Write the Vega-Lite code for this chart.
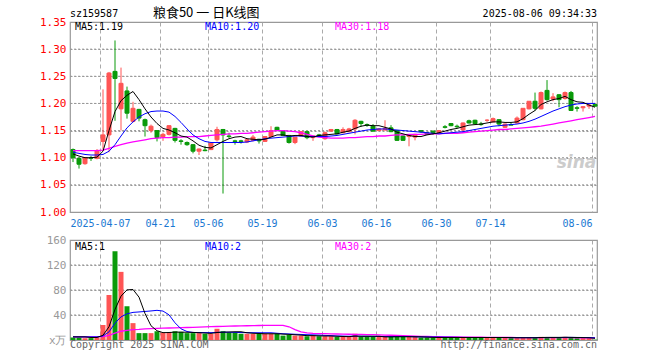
{
"$schema": "https://vega.github.io/schema/vega-lite/v6.json",
"autosize": "none",
"padding": {"left": 70, "top": 22, "right": 63, "bottom": 20},
"params": [{"name": "width", "value": 527}, {"name": "height", "value": 318}],
"background": "white",
"spacing": 28,
"bounds": "flush",
"config": {
  "view": {"stroke": "#999999", "strokeWidth": 1.2},
  "axis": {"domain": false, "ticks": false, "labelFont": "DejaVu Sans Mono", "labelFontSize": 10, "title": null, "gridColor": "#aaaaaa", "gridWidth": 1, "labelOverlap": false, "labelFlush": false, "labelBound": false},
  "text": {"font": "DejaVu Sans Mono", "fontSize": 10}
},
"datasets": {
"k": [
{"i":0,"o":1.115,"h":1.117,"l":1.092,"c":1.100,"v":4,"m5":1.107,"m10":1.110,"m30":1.113,"v5":5,"v10":5,"v30":5},
{"i":1,"o":1.099,"h":1.100,"l":1.080,"c":1.088,"v":4,"m5":1.103,"m10":1.108,"m30":1.113,"v5":5,"v10":5,"v30":5},
{"i":2,"o":1.089,"h":1.101,"l":1.087,"c":1.100,"v":3,"m5":1.100,"m10":1.106,"m30":1.113,"v5":5,"v10":5,"v30":5},
{"i":3,"o":1.100,"h":1.103,"l":1.094,"c":1.099,"v":3,"m5":1.100,"m10":1.105,"m30":1.113,"v5":4,"v10":5,"v30":5},
{"i":4,"o":1.099,"h":1.116,"l":1.097,"c":1.113,"v":4,"m5":1.101,"m10":1.105,"m30":1.113,"v5":4,"v10":5,"v30":5},
{"i":5,"o":1.130,"h":1.226,"l":1.115,"c":1.142,"v":24,"m5":1.112,"m10":1.106,"m30":1.114,"v5":7.6,"v10":6.5,"v30":5.5},
{"i":6,"o":1.142,"h":1.258,"l":1.110,"c":1.256,"v":72,"m5":1.150,"m10":1.112,"m30":1.117,"v5":21.2,"v10":13,"v30":7.5},
{"i":7,"o":1.259,"h":1.316,"l":1.168,"c":1.246,"v":142,"m5":1.185,"m10":1.124,"m30":1.121,"v5":49,"v10":27,"v30":11},
{"i":8,"o":1.190,"h":1.266,"l":1.150,"c":1.237,"v":109,"m5":1.205,"m10":1.140,"m30":1.124,"v5":70.2,"v10":37,"v30":14},
{"i":9,"o":1.223,"h":1.231,"l":1.172,"c":1.182,"v":54,"m5":1.215,"m10":1.155,"m30":1.127,"v5":80.2,"v10":41.9,"v30":15.5},
{"i":10,"o":1.167,"h":1.203,"l":1.165,"c":1.191,"v":27,"m5":1.222,"m10":1.166,"m30":1.129,"v5":80.8,"v10":44.2,"v30":16.5},
{"i":11,"o":1.189,"h":1.190,"l":1.167,"c":1.173,"v":11,"m5":1.207,"m10":1.175,"m30":1.131,"v5":68.6,"v10":44.9,"v30":17},
{"i":12,"o":1.170,"h":1.172,"l":1.139,"c":1.159,"v":11,"m5":1.190,"m10":1.181,"m30":1.133,"v5":42.4,"v10":45.7,"v30":17.8},
{"i":13,"o":1.150,"h":1.161,"l":1.146,"c":1.158,"v":11,"m5":1.175,"m10":1.185,"m30":1.135,"v5":22.8,"v10":46.5,"v30":18.3},
{"i":14,"o":1.150,"h":1.151,"l":1.130,"c":1.137,"v":14,"m5":1.163,"m10":1.186,"m30":1.136,"v5":14.8,"v10":47.5,"v30":18.7},
{"i":15,"o":1.139,"h":1.146,"l":1.131,"c":1.143,"v":12,"m5":1.154,"m10":1.186,"m30":1.137,"v5":11.8,"v10":46.3,"v30":19},
{"i":16,"o":1.143,"h":1.160,"l":1.141,"c":1.159,"v":12,"m5":1.151,"m10":1.184,"m30":1.137,"v5":12,"v10":40.3,"v30":19.2},
{"i":17,"o":1.154,"h":1.155,"l":1.128,"c":1.132,"v":14,"m5":1.146,"m10":1.176,"m30":1.138,"v5":12.6,"v10":27.5,"v30":19.5},
{"i":18,"o":1.131,"h":1.134,"l":1.124,"c":1.130,"v":13,"m5":1.140,"m10":1.165,"m30":1.138,"v5":12.6,"v10":17.9,"v30":19.8},
{"i":19,"o":1.128,"h":1.130,"l":1.122,"c":1.124,"v":11,"m5":1.138,"m10":1.153,"m30":1.139,"v5":12.4,"v10":13.6,"v30":20},
{"i":20,"o":1.124,"h":1.125,"l":1.108,"c":1.112,"v":11,"m5":1.131,"m10":1.142,"m30":1.139,"v5":12.2,"v10":12,"v30":20.2},
{"i":21,"o":1.112,"h":1.117,"l":1.105,"c":1.116,"v":11,"m5":1.123,"m10":1.135,"m30":1.139,"v5":11.6,"v10":12,"v30":20.5},
{"i":22,"o":1.114,"h":1.122,"l":1.112,"c":1.113,"v":10,"m5":1.119,"m10":1.130,"m30":1.140,"v5":11.2,"v10":11.9,"v30":21},
{"i":23,"o":1.115,"h":1.129,"l":1.114,"c":1.127,"v":10,"m5":1.118,"m10":1.128,"m30":1.141,"v5":10.6,"v10":11.8,"v30":21.3},
{"i":24,"o":1.133,"h":1.157,"l":1.130,"c":1.152,"v":18,"m5":1.124,"m10":1.128,"m30":1.142,"v5":12,"v10":12.2,"v30":21.6},
{"i":25,"o":1.152,"h":1.153,"l":1.034,"c":1.142,"v":14,"m5":1.130,"m10":1.128,"m30":1.143,"v5":12.6,"v10":12.4,"v30":21.9},
{"i":26,"o":1.140,"h":1.146,"l":1.136,"c":1.139,"v":12,"m5":1.135,"m10":1.128,"m30":1.144,"v5":12.8,"v10":12.4,"v30":22.2},
{"i":27,"o":1.131,"h":1.133,"l":1.124,"c":1.130,"v":12,"m5":1.138,"m10":1.128,"m30":1.144,"v5":13.2,"v10":12.2,"v30":22.4},
{"i":28,"o":1.131,"h":1.133,"l":1.126,"c":1.130,"v":10,"m5":1.139,"m10":1.128,"m30":1.145,"v5":13.2,"v10":11.9,"v30":22.6},
{"i":29,"o":1.129,"h":1.135,"l":1.127,"c":1.133,"v":10,"m5":1.135,"m10":1.129,"m30":1.145,"v5":11.6,"v10":11.8,"v30":22.8},
{"i":30,"o":1.132,"h":1.142,"l":1.130,"c":1.138,"v":10,"m5":1.134,"m10":1.131,"m30":1.146,"v5":10.8,"v10":11.7,"v30":23},
{"i":31,"o":1.134,"h":1.135,"l":1.126,"c":1.131,"v":10,"m5":1.133,"m10":1.133,"m30":1.147,"v5":10.4,"v10":11.6,"v30":23.2},
{"i":32,"o":1.130,"h":1.140,"l":1.129,"c":1.139,"v":10,"m5":1.134,"m10":1.135,"m30":1.148,"v5":10,"v10":11.6,"v30":23.3},
{"i":33,"o":1.139,"h":1.158,"l":1.138,"c":1.150,"v":10,"m5":1.138,"m10":1.136,"m30":1.149,"v5":10,"v10":11.6,"v30":23.4},
{"i":34,"o":1.156,"h":1.157,"l":1.149,"c":1.151,"v":10,"m5":1.142,"m10":1.137,"m30":1.150,"v5":10,"v10":10.8,"v30":23.4},
{"i":35,"o":1.150,"h":1.151,"l":1.140,"c":1.141,"v":7,"m5":1.142,"m10":1.138,"m30":1.150,"v5":9.4,"v10":10.1,"v30":23.3},
{"i":36,"o":1.141,"h":1.142,"l":1.126,"c":1.128,"v":8,"m5":1.140,"m10":1.139,"m30":1.149,"v5":9,"v10":9.7,"v30":21.2},
{"i":37,"o":1.128,"h":1.138,"l":1.125,"c":1.138,"v":7,"m5":1.141,"m10":1.140,"m30":1.148,"v5":8.4,"v10":9.2,"v30":16.6},
{"i":38,"o":1.140,"h":1.149,"l":1.139,"c":1.148,"v":7,"m5":1.141,"m10":1.140,"m30":1.146,"v5":7.8,"v10":8.9,"v30":13.1},
{"i":39,"o":1.148,"h":1.149,"l":1.134,"c":1.137,"v":6,"m5":1.139,"m10":1.139,"m30":1.143,"v5":7,"v10":8.5,"v30":11.4},
{"i":40,"o":1.137,"h":1.141,"l":1.131,"c":1.140,"v":7,"m5":1.138,"m10":1.139,"m30":1.140,"v5":7,"v10":8.2,"v30":10.5},
{"i":41,"o":1.142,"h":1.144,"l":1.139,"c":1.140,"v":6,"m5":1.141,"m10":1.139,"m30":1.138,"v5":6.6,"v10":7.8,"v30":10.3},
{"i":42,"o":1.135,"h":1.148,"l":1.133,"c":1.146,"v":6,"m5":1.142,"m10":1.139,"m30":1.137,"v5":6.4,"v10":7.4,"v30":10.1},
{"i":43,"o":1.149,"h":1.153,"l":1.148,"c":1.152,"v":6,"m5":1.143,"m10":1.140,"m30":1.136,"v5":6.4,"v10":7,"v30":9.9},
{"i":44,"o":1.152,"h":1.153,"l":1.143,"c":1.144,"v":5,"m5":1.144,"m10":1.141,"m30":1.136,"v5":6,"v10":6.5,"v30":9.6},
{"i":45,"o":1.146,"h":1.156,"l":1.145,"c":1.152,"v":5,"m5":1.147,"m10":1.143,"m30":1.136,"v5":5.6,"v10":6.3,"v30":9.4},
{"i":46,"o":1.148,"h":1.155,"l":1.147,"c":1.153,"v":5,"m5":1.149,"m10":1.145,"m30":1.137,"v5":5.4,"v10":6,"v30":9.2},
{"i":47,"o":1.153,"h":1.171,"l":1.143,"c":1.169,"v":10,"m5":1.154,"m10":1.147,"m30":1.137,"v5":6.2,"v10":6.3,"v30":9.1},
{"i":48,"o":1.167,"h":1.168,"l":1.157,"c":1.163,"v":5,"m5":1.158,"m10":1.149,"m30":1.138,"v5":6,"v10":6.1,"v30":8.9},
{"i":49,"o":1.161,"h":1.163,"l":1.157,"c":1.160,"v":5,"m5":1.160,"m10":1.151,"m30":1.139,"v5":6,"v10":6,"v30":8.7},
{"i":50,"o":1.158,"h":1.162,"l":1.148,"c":1.149,"v":5,"m5":1.159,"m10":1.152,"m30":1.139,"v5":6,"v10":5.8,"v30":8.5},
{"i":51,"o":1.150,"h":1.154,"l":1.149,"c":1.153,"v":5,"m5":1.159,"m10":1.153,"m30":1.140,"v5":6,"v10":5.7,"v30":8.2},
{"i":52,"o":1.151,"h":1.169,"l":1.150,"c":1.154,"v":5,"m5":1.156,"m10":1.153,"m30":1.140,"v5":5,"v10":5.6,"v30":7.9},
{"i":53,"o":1.155,"h":1.160,"l":1.147,"c":1.148,"v":5,"m5":1.153,"m10":1.152,"m30":1.141,"v5":5,"v10":5.5,"v30":7.6},
{"i":54,"o":1.150,"h":1.151,"l":1.131,"c":1.132,"v":6,"m5":1.147,"m10":1.151,"m30":1.142,"v5":5.2,"v10":5.6,"v30":7.3},
{"i":55,"o":1.140,"h":1.141,"l":1.131,"c":1.132,"v":5,"m5":1.144,"m10":1.150,"m30":1.142,"v5":5.2,"v10":5.6,"v30":6.9},
{"i":56,"o":1.139,"h":1.143,"l":1.121,"c":1.142,"v":5,"m5":1.141,"m10":1.149,"m30":1.143,"v5":5.2,"v10":5.6,"v30":6.5},
{"i":57,"o":1.138,"h":1.144,"l":1.132,"c":1.143,"v":5,"m5":1.139,"m10":1.148,"m30":1.143,"v5":5.2,"v10":5.1,"v30":6.2},
{"i":58,"o":1.150,"h":1.150,"l":1.146,"c":1.148,"v":4,"m5":1.139,"m10":1.147,"m30":1.143,"v5":5,"v10":5,"v30":5.9},
{"i":59,"o":1.146,"h":1.147,"l":1.142,"c":1.143,"v":4,"m5":1.142,"m10":1.146,"m30":1.144,"v5":4.6,"v10":4.9,"v30":5.6},
{"i":60,"o":1.149,"h":1.150,"l":1.142,"c":1.146,"v":4,"m5":1.144,"m10":1.145,"m30":1.144,"v5":4.2,"v10":4.8,"v30":5.4},
{"i":61,"o":1.146,"h":1.151,"l":1.145,"c":1.150,"v":4,"m5":1.146,"m10":1.144,"m30":1.144,"v5":4,"v10":4.7,"v30":5.2},
{"i":62,"o":1.157,"h":1.160,"l":1.154,"c":1.156,"v":4,"m5":1.149,"m10":1.145,"m30":1.145,"v5":4,"v10":4.6,"v30":5},
{"i":63,"o":1.163,"h":1.164,"l":1.158,"c":1.159,"v":4,"m5":1.152,"m10":1.146,"m30":1.145,"v5":4,"v10":4.5,"v30":4.9},
{"i":64,"o":1.158,"h":1.161,"l":1.155,"c":1.157,"v":4,"m5":1.154,"m10":1.147,"m30":1.145,"v5":4,"v10":4.3,"v30":4.8},
{"i":65,"o":1.151,"h":1.165,"l":1.150,"c":1.164,"v":4,"m5":1.157,"m10":1.148,"m30":1.146,"v5":4,"v10":4.2,"v30":4.7},
{"i":66,"o":1.168,"h":1.170,"l":1.163,"c":1.164,"v":4,"m5":1.160,"m10":1.150,"m30":1.147,"v5":4,"v10":4.1,"v30":4.6},
{"i":67,"o":1.169,"h":1.170,"l":1.162,"c":1.163,"v":4,"m5":1.161,"m10":1.152,"m30":1.148,"v5":4,"v10":4,"v30":4.5},
{"i":68,"o":1.162,"h":1.166,"l":1.159,"c":1.161,"v":4,"m5":1.162,"m10":1.154,"m30":1.149,"v5":4,"v10":4,"v30":4.4},
{"i":69,"o":1.169,"h":1.171,"l":1.166,"c":1.169,"v":4,"m5":1.164,"m10":1.156,"m30":1.150,"v5":4,"v10":4,"v30":4.3},
{"i":70,"o":1.166,"h":1.174,"l":1.165,"c":1.172,"v":4,"m5":1.166,"m10":1.158,"m30":1.151,"v5":4,"v10":4,"v30":4.2},
{"i":71,"o":1.170,"h":1.171,"l":1.158,"c":1.162,"v":4,"m5":1.166,"m10":1.159,"m30":1.152,"v5":4,"v10":4,"v30":4.1},
{"i":72,"o":1.156,"h":1.163,"l":1.155,"c":1.162,"v":4,"m5":1.165,"m10":1.160,"m30":1.152,"v5":4,"v10":4,"v30":4},
{"i":73,"o":1.161,"h":1.165,"l":1.160,"c":1.160,"v":3,"m5":1.165,"m10":1.161,"m30":1.153,"v5":3.8,"v10":3.9,"v30":4},
{"i":74,"o":1.164,"h":1.176,"l":1.163,"c":1.173,"v":3,"m5":1.166,"m10":1.162,"m30":1.154,"v5":3.6,"v10":3.8,"v30":3.9},
{"i":75,"o":1.170,"h":1.191,"l":1.169,"c":1.191,"v":4,"m5":1.172,"m10":1.164,"m30":1.155,"v5":3.6,"v10":3.8,"v30":3.9},
{"i":76,"o":1.190,"h":1.204,"l":1.189,"c":1.204,"v":4,"m5":1.180,"m10":1.167,"m30":1.156,"v5":3.6,"v10":3.8,"v30":3.8},
{"i":77,"o":1.204,"h":1.220,"l":1.187,"c":1.191,"v":4,"m5":1.187,"m10":1.171,"m30":1.157,"v5":3.6,"v10":3.8,"v30":3.8},
{"i":78,"o":1.190,"h":1.222,"l":1.189,"c":1.220,"v":5,"m5":1.198,"m10":1.176,"m30":1.158,"v5":4,"v10":3.9,"v30":3.8},
{"i":79,"o":1.224,"h":1.243,"l":1.205,"c":1.207,"v":4,"m5":1.203,"m10":1.181,"m30":1.160,"v5":4.2,"v10":3.9,"v30":3.8},
{"i":80,"o":1.208,"h":1.219,"l":1.204,"c":1.212,"v":4,"m5":1.207,"m10":1.186,"m30":1.162,"v5":4.2,"v10":3.9,"v30":3.7},
{"i":81,"o":1.216,"h":1.217,"l":1.193,"c":1.207,"v":4,"m5":1.209,"m10":1.190,"m30":1.164,"v5":4.2,"v10":3.9,"v30":3.7},
{"i":82,"o":1.209,"h":1.222,"l":1.207,"c":1.220,"v":5,"m5":1.213,"m10":1.194,"m30":1.166,"v5":4.4,"v10":4.1,"v30":3.7},
{"i":83,"o":1.220,"h":1.223,"l":1.186,"c":1.187,"v":4,"m5":1.207,"m10":1.197,"m30":1.168,"v5":4.2,"v10":4.2,"v30":3.7},
{"i":84,"o":1.192,"h":1.195,"l":1.185,"c":1.191,"v":3,"m5":1.203,"m10":1.199,"m30":1.170,"v5":4,"v10":4.1,"v30":3.6},
{"i":85,"o":1.192,"h":1.195,"l":1.185,"c":1.194,"v":3,"m5":1.202,"m10":1.200,"m30":1.172,"v5":3.8,"v10":4,"v30":3.6},
{"i":86,"o":1.195,"h":1.200,"l":1.190,"c":1.197,"v":3,"m5":1.197,"m10":1.200,"m30":1.174,"v5":3.6,"v10":3.9,"v30":3.5},
{"i":87,"o":1.198,"h":1.199,"l":1.194,"c":1.195,"v":0.5,"m5":1.193,"m10":1.200,"m30":1.176,"v5":2.7,"v10":3.6,"v30":3.4}
],
"pt": [{"p": 1.05, "a": -0.5, "b": 87.33}, {"p": 1.1, "a": -0.5, "b": 87.33}, {"p": 1.15, "a": -0.5, "b": 87.33}, {"p": 1.2, "a": -0.5, "b": 87.33}, {"p": 1.25, "a": -0.5, "b": 87.33}, {"p": 1.3, "a": -0.5, "b": 87.33}],
"vt": [{"p": 40, "a": -0.5, "b": 87.33}, {"p": 80, "a": -0.5, "b": 87.33}, {"p": 120, "a": -0.5, "b": 87.33}]
},
"vconcat": [
{
  "width": 527, "height": 190,
  "encoding": {
    "x": {"field": "i", "type": "quantitative", "scale": {"domain": [-0.5, 87.33], "nice": false, "zero": false, "padding": 0},
      "axis": {"values": [4.5, 14.5, 22.5, 31.5, 41.5, 50.5, 60.5, 69.5, 86.5],
        "labelExpr": "datum.value < 5 ? '2025-04-07' : datum.value < 15 ? '04-21' : datum.value < 23 ? '05-06' : datum.value < 32 ? '05-19' : datum.value < 42 ? '06-03' : datum.value < 51 ? '06-16' : datum.value < 61 ? '06-30' : datum.value < 70 ? '07-14' : '08-06'",
        "labelColor": "#1a78d2", "labelPadding": 6, "labelFontSize": 10, "grid": true,
        "labelAlign": {"condition": {"test": "datum.value > 80", "value": "right"}, "value": "center"},
        "gridDash": [4, 3], "gridColor": "#aaaaaa"}}
  },
  "layer": [
    {
      "data": {"name": "pt"},
      "mark": {"type": "rule", "color": "#999999", "strokeWidth": 1, "strokeDash": [2, 2], "opacity": 1},
      "encoding": {
        "x": {"field": "a", "type": "quantitative", "scale": {"domain": [-0.5, 87.33], "nice": false, "zero": false, "padding": 0}},
        "x2": {"field": "b"},
        "y": {"field": "p", "type": "quantitative", "scale": {"domain": [1.0, 1.35], "nice": false, "zero": false},
          "axis": {"values": [1.0, 1.05, 1.1, 1.15, 1.2, 1.25, 1.3, 1.35], "format": ".2f", "labelColor": "#ff0000", "labelPadding": 4, "labelFontSize": 11, "grid": true, "gridDash": [2, 2], "gridColor": "#999999", "labelOverlap": false, "labelFlush": false, "labelBound": false, "tickCount": 8}}
      }
    },
    {
      "data": {"name": "k"},
      "mark": {"type": "rule", "strokeWidth": 1},
      "encoding": {
        "y": {"field": "l", "type": "quantitative", "scale": {"domain": [1.0, 1.35], "nice": false, "zero": false}},
        "y2": {"field": "h"},
        "color": {"condition": {"test": "datum.c >= datum.o", "value": "#ff5555"}, "value": "#0a9a0a"}
      }
    },
    {
      "data": {"name": "k"},
      "mark": {"type": "bar", "orient": "vertical", "width": 4, "strokeWidth": 1},
      "encoding": {
        "y": {"field": "o", "type": "quantitative", "scale": {"domain": [1.0, 1.35], "nice": false, "zero": false}},
        "y2": {"field": "c"},
        "fill": {"condition": {"test": "datum.c >= datum.o", "value": "#ff5555"}, "value": "#0a9a0a"},
        "stroke": {"condition": {"test": "datum.c >= datum.o", "value": "#ff5555"}, "value": "#0a9a0a"}
      }
    },
    {
      "data": {"name": "k"},
      "mark": {"type": "line", "color": "#ff00ff", "strokeWidth": 1.3},
      "encoding": {"y": {"field": "m30", "type": "quantitative", "scale": {"domain": [1.0, 1.35], "nice": false, "zero": false}}}
    },
    {
      "data": {"name": "k"},
      "mark": {"type": "line", "color": "#0000ff", "strokeWidth": 1},
      "encoding": {"y": {"field": "m10", "type": "quantitative", "scale": {"domain": [1.0, 1.35], "nice": false, "zero": false}}}
    },
    {
      "data": {"name": "k"},
      "mark": {"type": "line", "color": "#000000", "strokeWidth": 1},
      "encoding": {"y": {"field": "m5", "type": "quantitative", "scale": {"domain": [1.0, 1.35], "nice": false, "zero": false}}}
    },
    {
      "data": {"values": [
        {"i": -0.5, "p": 1.3593, "t": "sz159587", "col": "#000000"},
        {"i": 0.33, "p": 1.3361, "t": "MA5:1.19", "col": "#000000"},
        {"i": 22.0, "p": 1.3361, "t": "MA10:1.20", "col": "#0000ff"},
        {"i": 43.67, "p": 1.3361, "t": "MA30:1.18", "col": "#ff00ff"}
      ]},
      "mark": {"type": "text", "baseline": "alphabetic", "align": "left", "font": "DejaVu Sans Mono", "fontSize": 10},
      "encoding": {
        "y": {"field": "p", "type": "quantitative", "scale": {"domain": [1.0, 1.35], "nice": false, "zero": false}},
        "text": {"field": "t"},
        "color": {"field": "col", "type": "nominal", "scale": null}
      }
    },
    {
      "data": {"values": [{"i": 87.33, "p": 1.3593, "t": "2025-08-06 09:34:33"}]},
      "mark": {"type": "text", "baseline": "alphabetic", "align": "right", "font": "DejaVu Sans Mono", "fontSize": 10, "color": "#000000"},
      "encoding": {
        "y": {"field": "p", "type": "quantitative", "scale": {"domain": [1.0, 1.35], "nice": false, "zero": false}},
        "text": {"field": "t"}
      }
    },
    {
      "data": {"values": [{"i": 22.2, "p": 1.3593, "t": "粮食50 一 日K线图"}]},
      "mark": {"type": "text", "baseline": "alphabetic", "align": "center", "font": "Noto Sans CJK SC", "fontSize": 13, "color": "#000000"},
      "encoding": {
        "y": {"field": "p", "type": "quantitative", "scale": {"domain": [1.0, 1.35], "nice": false, "zero": false}},
        "text": {"field": "t"}
      }
    },
    {
      "data": {"values": [{"i": 87.2, "p": 1.0815, "t": "sina"}]},
      "mark": {"type": "text", "baseline": "alphabetic", "align": "right", "font": "DejaVu Sans", "fontSize": 17, "fontWeight": "bold", "fontStyle": "italic", "color": "#cccccc"},
      "encoding": {
        "y": {"field": "p", "type": "quantitative", "scale": {"domain": [1.0, 1.35], "nice": false, "zero": false}},
        "text": {"field": "t"}
      }
    }
  ]
},
{
  "width": 527, "height": 100,
  "encoding": {
    "x": {"field": "i", "type": "quantitative", "scale": {"domain": [-0.5, 87.33], "nice": false, "zero": false, "padding": 0},
      "axis": {"values": [4.5, 14.5, 22.5, 31.5, 41.5, 50.5, 60.5, 69.5, 86.5], "labels": false, "grid": true, "gridDash": [4, 3], "gridColor": "#aaaaaa"}}
  },
  "layer": [
    {
      "data": {"name": "vt"},
      "mark": {"type": "rule", "color": "#999999", "strokeWidth": 1, "strokeDash": [2, 2], "opacity": 1},
      "encoding": {
        "x": {"field": "a", "type": "quantitative", "scale": {"domain": [-0.5, 87.33], "nice": false, "zero": false, "padding": 0}},
        "x2": {"field": "b"},
        "y": {"field": "p", "type": "quantitative", "scale": {"domain": [0, 160], "nice": false},
          "axis": {"values": [0, 40, 80, 120, 160], "labelExpr": "datum.value == 0 ? 'x万' : datum.label", "labelColor": "#999999", "labelPadding": 4, "labelFontSize": 11, "grid": true, "gridDash": [2, 2], "gridColor": "#999999", "labelOverlap": false, "labelFlush": false, "labelBound": false, "tickCount": 5}}
      }
    },
    {
      "data": {"name": "k"},
      "mark": {"type": "bar", "orient": "vertical", "width": 5},
      "encoding": {
        "y": {"field": "v", "type": "quantitative", "scale": {"domain": [0, 160], "nice": false}},
        "color": {"condition": {"test": "datum.c >= datum.o", "value": "#ff5555"}, "value": "#0a9a0a"}
      }
    },
    {
      "data": {"name": "k"},
      "mark": {"type": "line", "color": "#ff00ff", "strokeWidth": 1.3},
      "encoding": {"y": {"field": "v30", "type": "quantitative", "scale": {"domain": [0, 160], "nice": false}}}
    },
    {
      "data": {"name": "k"},
      "mark": {"type": "line", "color": "#0000ff", "strokeWidth": 1},
      "encoding": {"y": {"field": "v10", "type": "quantitative", "scale": {"domain": [0, 160], "nice": false}}}
    },
    {
      "data": {"name": "k"},
      "mark": {"type": "line", "color": "#000000", "strokeWidth": 1},
      "encoding": {"y": {"field": "v5", "type": "quantitative", "scale": {"domain": [0, 160], "nice": false}}}
    },
    {
      "data": {"values": [
        {"i": 0.33, "p": 144, "t": "MA5:1", "col": "#000000"},
        {"i": 22.0, "p": 144, "t": "MA10:2", "col": "#0000ff"},
        {"i": 43.67, "p": 144, "t": "MA30:2", "col": "#ff00ff"},
        {"i": -0.5, "p": -12.8, "t": "Copyright 2025 SINA.COM", "col": "#666666"}
      ]},
      "mark": {"type": "text", "baseline": "alphabetic", "align": "left", "font": "DejaVu Sans Mono", "fontSize": 10},
      "encoding": {
        "y": {"field": "p", "type": "quantitative", "scale": {"domain": [0, 160], "nice": false}},
        "text": {"field": "t"},
        "color": {"field": "col", "type": "nominal", "scale": null}
      }
    },
    {
      "data": {"values": [{"i": 87.33, "p": -12.8, "t": "http://finance.sina.com.cn"}]},
      "mark": {"type": "text", "baseline": "alphabetic", "align": "right", "font": "DejaVu Sans Mono", "fontSize": 10, "color": "#666666"},
      "encoding": {
        "y": {"field": "p", "type": "quantitative", "scale": {"domain": [0, 160], "nice": false}},
        "text": {"field": "t"}
      }
    }
  ]
}
]
}
